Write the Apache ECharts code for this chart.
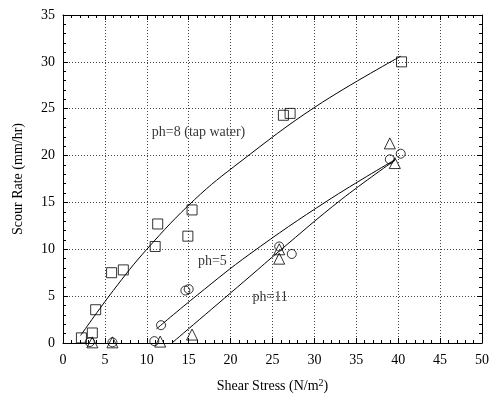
<!DOCTYPE html>
<html><head><meta charset="utf-8">
<script src="https://cdn.jsdelivr.net/npm/echarts@6/dist/echarts.min.js"></script>
<style>html,body{margin:0;padding:0;background:#fff}#c{width:492px;height:401px}</style>
</head><body><div id="c"></div>
<script>
// Observations (shear stress N/m^2, scour rate mm/hr)
const ph8Points = [[2.2,0.55],[3.5,1.07],[3.9,3.55],[5.8,7.5],[7.2,7.8],[11.0,10.3],[11.3,12.7],[14.9,11.4],[15.4,14.2],[26.3,24.3],[27.1,24.5],[40.4,30.0]];
const ph5Points = [[3.2,0.1],[5.9,0.07],[10.9,0.2],[11.7,1.9],[14.6,5.6],[15.0,5.75],[25.8,10.3],[27.3,9.5],[39.0,19.6],[40.3,20.2]];
const ph11Points = [[3.5,0.07],[5.9,0.07],[11.6,0.15],[15.4,0.9],[25.8,10.0],[25.8,9.0],[39.0,21.3],[39.6,19.2]];
// Fitted curves
const ph8Curve = [[2.1,0.8],[6,5.6],[10,10.0],[15.7,15.3],[21.1,19.3],[30.2,25.25],[40.3,30.6]];
const ph5Curve = [[11.15,1.5],[16,5.1],[22.3,9.5],[31.6,15.2],[39.7,19.6]];
const ph11Curve = [[13.0,0.0],[22.3,7.1],[25.8,9.8],[33.2,15.3],[39.6,19.5]];
const curveLabels = [[10.6,22.5,'ph=8 (tap water)'],[16.1,8.7,'ph=5'],[22.6,4.9,'ph=11']];
const xTicks = [0,5,10,15,20,25,30,35,40,45,50];
const yTicks = [0,5,10,15,20,25,30,35];

const FONT = 'Liberation Serif';
const chart = echarts.init(document.getElementById('c'));
const baseAxis = {
  type:'value', interval:5,
  axisLine:{show:true,onZero:false,lineStyle:{color:'#000',width:1}},
  axisTick:{show:true,inside:true,length:5,lineStyle:{color:'#000'}},
  minorTick:{show:true,splitNumber:5,length:3,lineStyle:{color:'#000'}},
};
const ptSeries = (data, symbol, size) => ({
  type:'scatter', data, symbol, symbolSize:size, silent:true,
  itemStyle:{color:'rgba(0,0,0,0)',borderColor:'#000',borderWidth:1}, z:5
});
const lineSeries = (data) => ({
  type:'line', data, smooth:0.4, showSymbol:false, silent:true,
  lineStyle:{color:'#000',width:1}, z:4
});
chart.setOption({
  animation:false,
  textStyle:{fontFamily:FONT},
  grid:{left:63,right:9,top:15,bottom:58},
  xAxis:[
    Object.assign({}, baseAxis, {min:xTicks[0],max:xTicks[xTicks.length-1],position:'bottom',
      name:'Shear Stress (N/m{sup|2})', nameLocation:'middle', nameGap:35,
      nameTextStyle:{fontFamily:FONT,fontSize:14,color:'#000',
        rich:{sup:{fontFamily:FONT,fontSize:10,color:'#000',padding:[0,0,7,0]}}},
      axisLabel:{fontFamily:FONT,fontSize:14,color:'#000',margin:10},
      splitLine:{show:true,lineStyle:{color:'#444',type:[1,2],width:1}}}),
    Object.assign({}, baseAxis, {min:xTicks[0],max:xTicks[xTicks.length-1],position:'top',
      axisLabel:{show:false},splitLine:{show:false}})
  ],
  yAxis:[
    Object.assign({}, baseAxis, {min:yTicks[0],max:yTicks[yTicks.length-1],position:'left',
      name:'Scour Rate (mm/hr)', nameLocation:'middle', nameGap:38, nameRotate:90,
      nameTextStyle:{fontFamily:FONT,fontSize:14,color:'#000'},
      axisLabel:{fontFamily:FONT,fontSize:14,color:'#000',margin:8},
      splitLine:{show:true,lineStyle:{color:'#444',type:[1,2],width:1}}}),
    Object.assign({}, baseAxis, {min:yTicks[0],max:yTicks[yTicks.length-1],position:'right',
      axisLabel:{show:false},splitLine:{show:false}})
  ],
  series:[
    lineSeries(ph8Curve), lineSeries(ph5Curve), lineSeries(ph11Curve),
    ptSeries(ph8Points,'rect',10),
    ptSeries(ph5Points,'circle',9),
    ptSeries(ph11Points,'triangle',11),
    {type:'scatter', data:curveLabels.map(d=>({value:[d[0],d[1]],label:{formatter:d[2]}})),
     symbolSize:0, silent:true, z:6,
     label:{show:true,position:'right',distance:0,fontFamily:FONT,fontSize:14,color:'#000'}}
  ]
});
</script></body></html>
